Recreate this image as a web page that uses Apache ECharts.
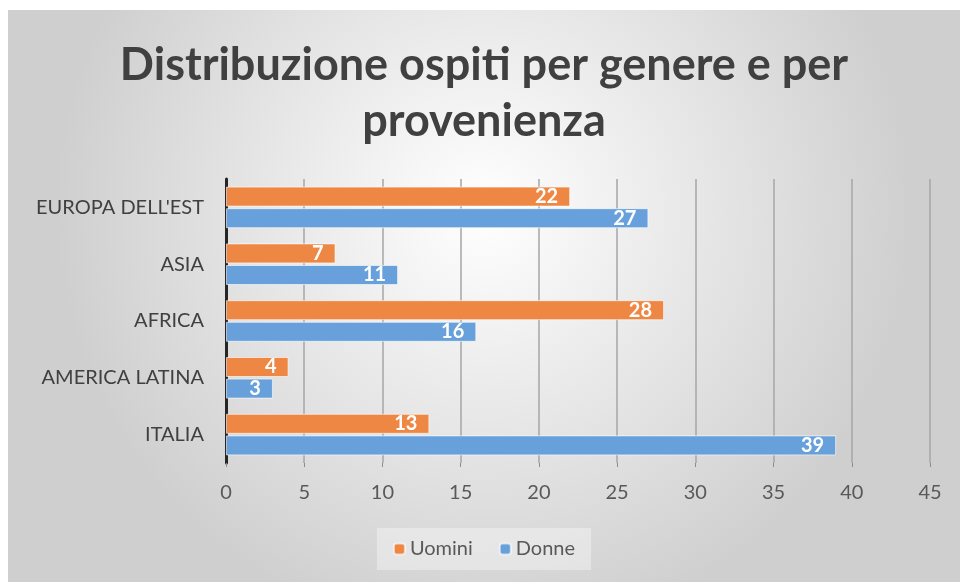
<!DOCTYPE html>
<html>
<head>
<meta charset="utf-8">
<script src="https://cdn.jsdelivr.net/npm/echarts@6/dist/echarts.min.js"></script>
<style>
  html, body { margin: 0; padding: 0; background: #fff; }
  #chart { position: absolute; left: 8px; top: 10px; width: 952px; height: 572px; }
</style>
</head>
<body>
<div id="chart"></div>
<script>
// dati (dal basso verso l'alto)
var categories = ['ITALIA', 'AMERICA LATINA', 'AFRICA', 'ASIA', "EUROPA DELL'EST"]
var uomini = [13, 4, 28, 7, 22]
var donne = [39, 3, 16, 11, 27]
var xTicks = [0, 5, 10, 15, 20, 25, 30, 35, 40, 45]

var font = 'Lato, "Open Sans", sans-serif'

var chart = echarts.init(document.getElementById('chart'))
chart.setOption({
  backgroundColor: {
    type: 'radial', x: 0.5, y: 0.35, r: 0.75,
    colorStops: [
      { offset: 0, color: '#ffffff' },
      { offset: 1, color: '#cfcfcf' }
    ]
  },
  textStyle: { fontFamily: font },
  title: {
    text: 'Distribuzione ospiti per genere e per\nprovenienza',
    left: 'center',
    top: 22,
    textStyle: {
      fontFamily: font,
      fontSize: 45,
      fontWeight: 'bold',
      color: '#404040',
      lineHeight: 56
    }
  },
  legend: {
    data: ['Uomini', 'Donne'],
    bottom: 12,
    left: 'center',
    itemWidth: 11,
    itemHeight: 11,
    itemGap: 26,
    padding: [11, 16],
    backgroundColor: 'rgba(255,255,255,0.35)',
    textStyle: { fontSize: 20, color: '#595959', fontFamily: font }
  },
  grid: {
    left: 218,
    right: 30,
    top: 169,
    bottom: 119
  },
  xAxis: {
    type: 'value',
    min: xTicks[0],
    max: xTicks[xTicks.length - 1],
    interval: 5,
    axisLine: { show: false },
    axisTick: { show: true, length: 4, lineStyle: { color: '#8c8c8c' } },
    axisLabel: { fontSize: 20, color: '#595959', margin: 20 },
    splitLine: {
      show: true,
      lineStyle: { color: '#a6a6a6', width: 1.5 }
    }
  },
  yAxis: {
    type: 'category',
    data: categories,
    axisLine: { show: true, lineStyle: { color: '#262626', width: 3 } },
    axisTick: { show: false },
    axisLabel: { fontSize: 20, color: '#404040', margin: 22 }
  },
  series: [
    {
      name: 'Uomini',
      type: 'bar',
      data: uomini,
      barWidth: 20,
      barGap: '8%',
      itemStyle: { color: '#EE8743', borderColor: 'rgba(255,255,255,0.6)', borderWidth: 1 },
      label: {
        show: true,
        position: 'insideRight',
        color: '#fff',
        fontWeight: 'bold',
        fontSize: 20,
        fontFamily: font,
        distance: 12
      }
    },
    {
      name: 'Donne',
      type: 'bar',
      data: donne,
      barWidth: 20,
      barGap: '8%',
      itemStyle: { color: '#67A0DA', borderColor: 'rgba(255,255,255,0.6)', borderWidth: 1 },
      label: {
        show: true,
        position: 'insideRight',
        color: '#fff',
        fontWeight: 'bold',
        fontSize: 20,
        fontFamily: font,
        distance: 12
      }
    }
  ]
})
</script>
</body>
</html>
